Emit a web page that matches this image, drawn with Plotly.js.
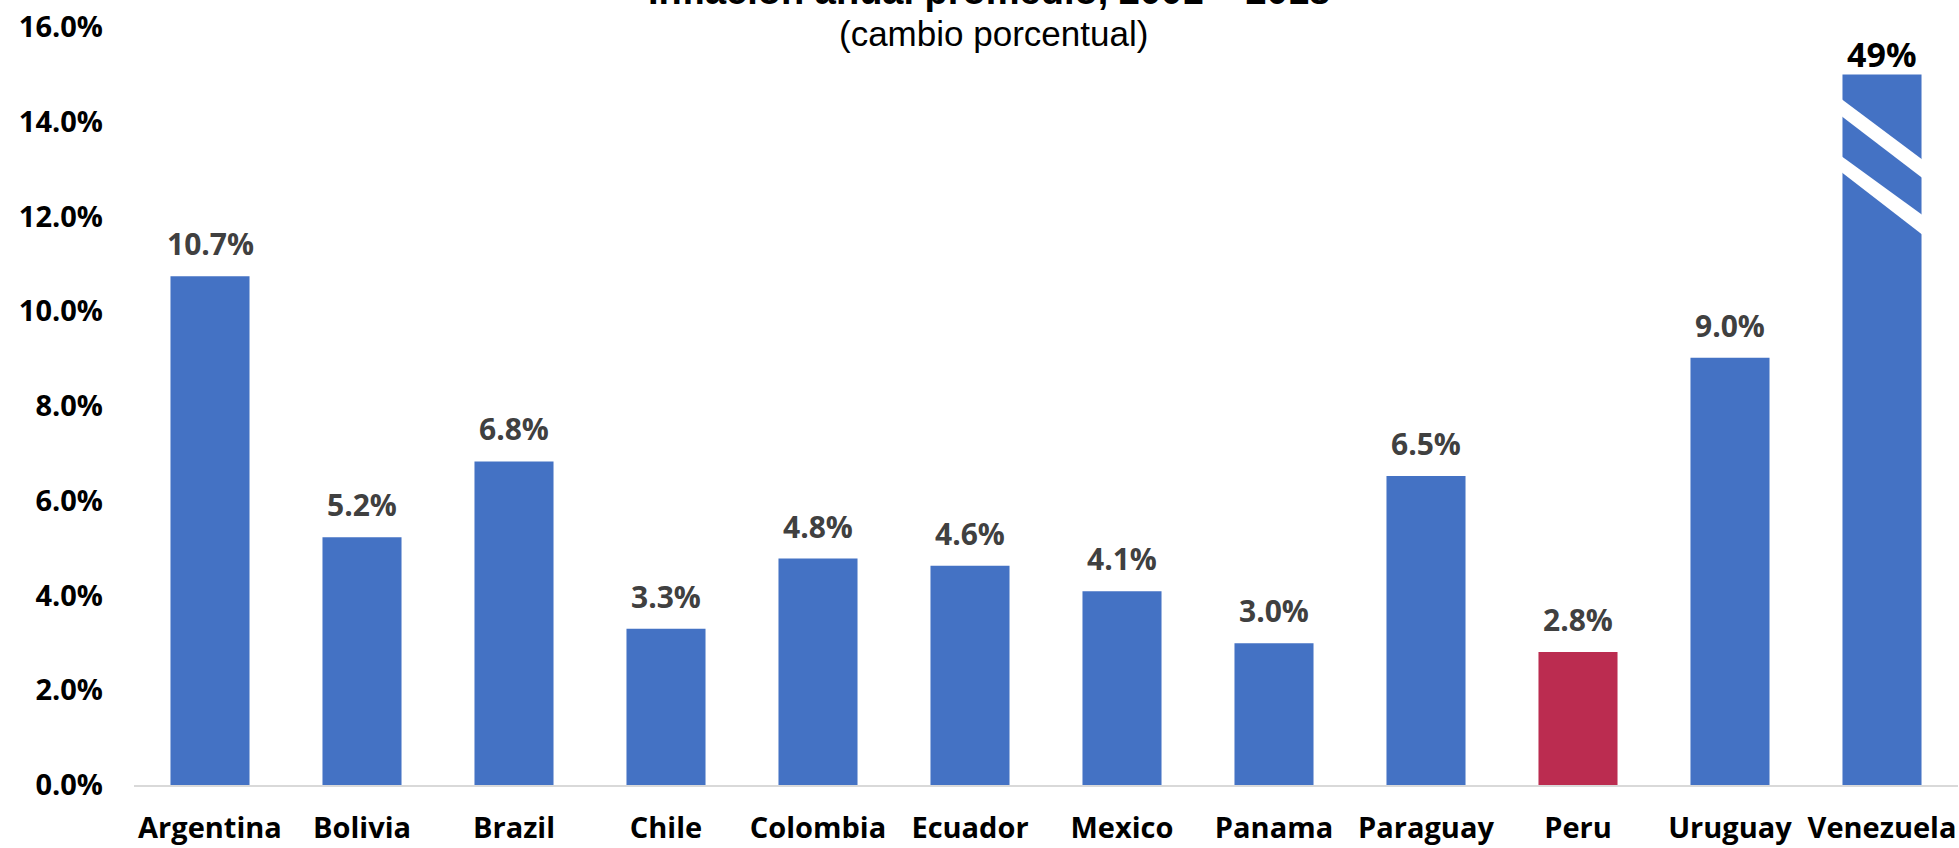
<!DOCTYPE html>
<html>
<head>
<meta charset="utf-8">
<script src="https://cdn.plot.ly/plotly-3.0.1.min.js"></script>
<style>html,body{margin:0;padding:0;background:#fff;}#chart{width:1959px;height:848px;}</style>
</head>
<body>
<div id="chart"></div>
<script>
const paises = ['Argentina','Bolivia','Brazil','Chile','Colombia','Ecuador','Mexico','Panama','Paraguay','Peru','Uruguay','Venezuela'];
// bar heights as drawn (Venezuela's bar is cut at the top of the scale, its real value is 49%)
const alturaBarra = [10.74, 5.23, 6.83, 3.30, 4.78, 4.63, 4.09, 2.99, 6.52, 2.81, 9.02, 15.0];
const etiquetas = ['10.7%','5.2%','6.8%','3.3%','4.8%','4.6%','4.1%','3.0%','6.5%','2.8%','9.0%','49%'];
const coloresBarra = ['#4472C4','#4472C4','#4472C4','#4472C4','#4472C4','#4472C4','#4472C4','#4472C4','#4472C4','#BB2C50','#4472C4','#4472C4'];
const colorEtiqueta = ['#404040','#404040','#404040','#404040','#404040','#404040','#404040','#404040','#404040','#404040','#404040','#000000'];
const tamEtiqueta = [30,30,30,30,30,30,30,30,30,30,30,34];
const desplazEtiqueta = [10,10,10,10,10,10,10,10,10,10,10,-5];
const titulo = 'Inflación anual promedio, 2001 – 2018';
const subtitulo = '(cambio porcentual)';
// axis-break bands drawn over the Venezuela bar: [x0, yTop0, yBot0, x1, yTop1, yBot1]
const cortes = [
  [10.70, 14.56, 14.20, 11.30, 13.12, 12.73],
  [10.70, 13.35, 13.02, 11.30, 11.95, 11.53]
];

const fontNum = 'Open Sans, DejaVu Sans, sans-serif';

const trace = {
  type: 'bar',
  x: paises,
  y: alturaBarra,
  marker: {color: coloresBarra, line: {width: 0}},
  hoverinfo: 'skip'
};

const annotations = paises.map((p, i) => ({
  x: p, y: alturaBarra[i], xref: 'x', yref: 'y',
  text: etiquetas[i], showarrow: false,
  yanchor: 'bottom', yshift: desplazEtiqueta[i],
  font: {family: fontNum, size: tamEtiqueta[i], color: colorEtiqueta[i], weight: 700}
}));
annotations.push({
  x: 0.469, y: 1.047, xref: 'paper', yref: 'paper', xanchor: 'center', yanchor: 'middle',
  text: '<b>' + titulo + '</b>', showarrow: false,
  font: {family: 'Liberation Sans Narrow, Arial Narrow, sans-serif', size: 38, color: '#000'}
});
annotations.push({
  x: 0.471, y: 0.9908, xref: 'paper', yref: 'paper', xanchor: 'center', yanchor: 'middle',
  text: subtitulo, showarrow: false,
  font: {family: 'Liberation Sans Narrow, Arial Narrow, sans-serif', size: 35, color: '#000'}
});

const shapes = cortes.map(c => ({
  type: 'path', xref: 'x', yref: 'y',
  path: `M ${c[0]},${c[1]} L ${c[3]},${c[4]} L ${c[3]},${c[5]} L ${c[0]},${c[2]} Z`,
  fillcolor: '#ffffff', line: {width: 0}, layer: 'above'
}));

const layout = {
  width: 1959, height: 848,
  margin: {l: 134, r: 1, t: 27, b: 63, pad: 0},
  paper_bgcolor: '#fff', plot_bgcolor: '#fff',
  showlegend: false,
  bargap: 0.48,
  xaxis: {
    type: 'category', showgrid: false, zeroline: false,
    showline: true, linecolor: '#D9D9D9', linewidth: 2,
    ticks: '', ticklabelstandoff: 16,
    tickfont: {family: fontNum, size: 29, color: '#000', weight: 700}
  },
  yaxis: {
    range: [0, 16], dtick: 2, tick0: 0, showgrid: false, zeroline: false,
    showline: false, ticks: '', tickformat: '.1f', ticksuffix: '%',
    ticklabelstandoff: 30,
    tickfont: {family: fontNum, size: 29, color: '#000', weight: 700}
  },
  annotations: annotations,
  shapes: shapes
};

Plotly.newPlot('chart', [trace], layout, {staticPlot: true, displayModeBar: false});
</script>
</body>
</html>
